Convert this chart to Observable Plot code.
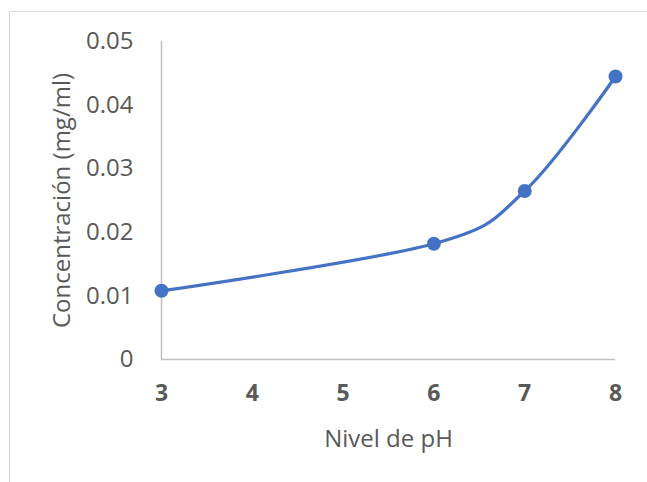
<!DOCTYPE html>
<html>
<head>
<meta charset="utf-8">
<script src="https://cdn.jsdelivr.net/npm/d3@7"></script>
<script src="https://cdn.jsdelivr.net/npm/@observablehq/plot@0.6"></script>
<style>
  html, body { margin: 0; padding: 0; background: #fff; }
  #wrap { position: relative; width: 647px; height: 482px; overflow: hidden; }
  #frame { position: absolute; left: 9px; top: 11px; width: 700px; height: 600px; border: 1.5px solid #d9d9d9; box-sizing: border-box; }
  #chart { position: absolute; left: 0; top: 0; }
</style>
</head>
<body>
<div id="wrap"><div id="frame"></div><div id="chart"></div></div>
<script>
const ph = [3, 6, 7, 8];
const concentracion = [0.0108, 0.0182, 0.0265, 0.0445];
const xTicks = [3, 4, 5, 6, 7, 8];
const yTicks = [0, 0.01, 0.02, 0.03, 0.04, 0.05];
const xLabel = "Nivel de pH";
const yLabel = "Concentración (mg/ml)";

const data = ph.map((p, i) => ({ph: p, c: concentracion[i]}));
const font = "'Open Sans', sans-serif";

const chart = Plot.plot({
  width: 647,
  height: 482,
  marginLeft: 161,
  marginRight: 32,
  marginTop: 41,
  marginBottom: 123,
  style: { fontFamily: font, background: "transparent", overflow: "visible" },
  x: { domain: [3, 8] },
  y: { domain: [0, 0.05] },
  marks: [
    Plot.ruleX([3], { stroke: "#bfbfbf", strokeWidth: 1.5 }),
    Plot.ruleY([0], { stroke: "#bfbfbf", strokeWidth: 1.5 }),
    Plot.axisY({ ticks: yTicks, tickSize: 0, tickPadding: 28, fontSize: 24, fill: "#595959",
      tickFormat: d => d === 0 ? "0" : d.toFixed(2), label: null }),
    Plot.axisX({ ticks: xTicks, tickSize: 0, tickPadding: 25, fontSize: 23, fontWeight: "bold", fill: "#595959",
      tickFormat: d => String(d), label: null }),
    Plot.text([xLabel], { frameAnchor: "bottom", dy: 80, fontSize: 24, fill: "#595959", textAnchor: "middle", lineAnchor: "middle", text: d => d }),
    Plot.text([yLabel], { frameAnchor: "left", dx: -99, rotate: -90, fontSize: 24, fill: "#595959", textAnchor: "middle", lineAnchor: "middle", text: d => d }),
    Plot.line(data, { x: "ph", y: "c", curve: "cardinal", stroke: "#4472c4", strokeWidth: 3.2 }),
    Plot.dot(data, { x: "ph", y: "c", r: 7, fill: "#4472c4", stroke: "none" })
  ]
});
document.getElementById("chart").appendChild(chart);
</script>
</body>
</html>
